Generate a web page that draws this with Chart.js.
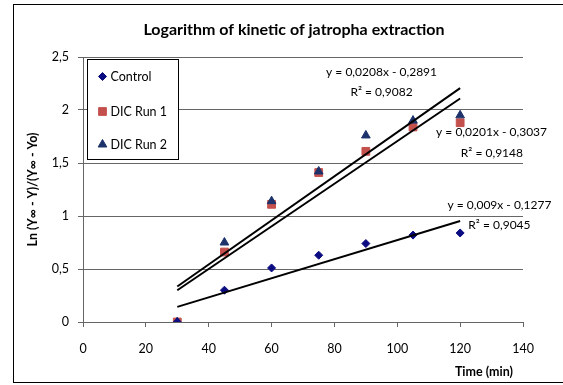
<!DOCTYPE html>
<html>
<head>
<meta charset="utf-8">
<script src="https://cdn.jsdelivr.net/npm/chart.js@4.4.1/dist/chart.umd.min.js"></script>
<style>
  html, body { margin: 0; padding: 0; background: #fff; }
</style>
</head>
<body>
<canvas id="kineticChart" width="563" height="385"></canvas>
<script>
const times = [30, 45, 60, 75, 90, 105, 120];
const control = [0, 0.30, 0.51, 0.63, 0.74, 0.82, 0.84];
const dicRun1 = [0, 0.66, 1.11, 1.41, 1.61, 1.84, 1.88];
const dicRun2 = [0, 0.75, 1.14, 1.42, 1.76, 1.90, 1.95];

// linear trendlines: [slope, intercept, r2]
const fitControl = [0.009, -0.1277, 0.9045];
const fitRun1 = [0.0201, -0.3037, 0.9148];
const fitRun2 = [0.0208, -0.2891, 0.9082];
const fitRange = [30, 120];

const xTicks = [0, 20, 40, 60, 80, 100, 120, 140];
const yTicks = [0, 0.5, 1, 1.5, 2, 2.5];

const chartTitle = 'Logarithm of kinetic of jatropha extraction';

const FONT = 'Lato, "Open Sans", sans-serif';
const comma = v => String(v).replace('.', ',');

function points(ys) {
    return times.map((t, i) => ({ x: t, y: ys[i] }));
}

function trend(fit) {
    return fitRange.map(x => ({ x: x, y: fit[0] * x + fit[1] }));
}

function equation(fit) {
    const sign = fit[1] < 0 ? ' - ' : ' + ';
    return 'y = ' + comma(fit[0]) + 'x' + sign + comma(Math.abs(fit[1]));
}

// equation labels, anchored in data units
const notes = [
    { fit: fitRun2, x: 95, y: 2.36, ry: 2.17, align: 'center' },
    { fit: fitRun1, x: 130, y: 1.79, ry: 1.59, align: 'center', rAlign: 'right', rx: 140 },
    { fit: fitControl, x: 132.5, y: 1.10, ry: 0.91, align: 'center' }
];

function marker(ctx, style, color, x, y, r) {
    if (Chart.helpers && Chart.helpers.drawPoint) {
        ctx.fillStyle = color;
        ctx.strokeStyle = color;
        Chart.helpers.drawPoint(ctx, { pointStyle: style, radius: r, rotation: 0, borderWidth: 1 }, x, y);
    }
}

const decorations = {
    id: 'decorations',
    beforeDraw(chart) {
        const c = chart.ctx;
        c.save();
        c.fillStyle = '#fff';
        c.fillRect(0, 0, chart.width, chart.height);
        c.strokeStyle = '#000';
        c.lineWidth = 1;
        c.strokeRect(13.5, 4.5, chart.width, 378);
        c.restore();
    },
    afterDraw(chart) {
        const c = chart.ctx;
        const area = chart.chartArea;
        const xs = chart.scales.x, ys = chart.scales.y;
        c.save();

        // title
        c.font = 'bold 16px ' + FONT;
        c.fillStyle = '#000';
        c.textAlign = 'center';
        c.textBaseline = 'middle';
        c.fillText(chartTitle, (area.left + area.right) / 2 - 9, 30);

        // legend box
        const lx = area.left + 4.5, ly = area.top + 2.5;
        c.fillStyle = '#fff';
        c.fillRect(lx, ly, 91, 100);
        c.strokeStyle = '#000';
        c.lineWidth = 1;
        c.strokeRect(lx, ly, 91, 100);
        const rows = [
            { ds: chart.data.datasets[0], dy: 17 },
            { ds: chart.data.datasets[1], dy: 52 },
            { ds: chart.data.datasets[2], dy: 85 }
        ];
        c.font = '12.5px ' + FONT;
        rows.forEach(row => {
            marker(c, row.ds.pointStyle, row.ds.backgroundColor, lx + 15, ly + row.dy, row.ds.pointRadius);
            c.fillStyle = '#000';
            c.textAlign = 'left';
            c.fillText(row.ds.label, lx + 23, ly + row.dy);
        });

        // trendline equations
        c.font = '12px ' + FONT;
        c.fillStyle = '#000';
        notes.forEach(n => {
            c.textAlign = n.align;
            c.fillText(equation(n.fit), xs.getPixelForValue(n.x), ys.getPixelForValue(n.y));
            c.textAlign = n.rAlign || n.align;
            c.fillText('R\u00b2 = ' + comma(n.fit[2]), xs.getPixelForValue(n.rx || n.x), ys.getPixelForValue(n.ry));
        });

        // x axis title
        c.font = 'bold 12.5px ' + FONT;
        c.textAlign = 'right';
        c.fillText('Time (min)', area.right - 10, chart.height - 13);
        c.restore();
    }
};

const ctx = document.getElementById('kineticChart').getContext('2d');

const chart = new Chart(ctx, {
    type: 'scatter',
    data: {
        datasets: [
            {
                label: 'Control',
                data: points(control),
                pointStyle: 'rectRot',
                pointRadius: 4,
                backgroundColor: '#0b0b82',
                borderColor: '#0b0b82',
                order: 3
            },
            {
                label: 'DIC Run 1',
                data: points(dicRun1),
                pointStyle: 'rect',
                pointRadius: 5.5,
                backgroundColor: '#c4504d',
                borderColor: '#c4504d',
                order: 5
            },
            {
                label: 'DIC Run 2',
                data: points(dicRun2),
                pointStyle: 'triangle',
                pointRadius: 5,
                backgroundColor: '#1c326b',
                borderColor: '#1c326b',
                order: 4
            },
            { label: 'fit2', data: trend(fitRun2), showLine: true, borderColor: '#000', borderWidth: 2, pointRadius: 0, order: 1 },
            { label: 'fit1', data: trend(fitRun1), showLine: true, borderColor: '#000', borderWidth: 2, pointRadius: 0, order: 1 },
            { label: 'fitC', data: trend(fitControl), showLine: true, borderColor: '#000', borderWidth: 2, pointRadius: 0, order: 1 }
        ]
    },
    options: {
        responsive: false,
        animation: false,
        devicePixelRatio: 1,
        layout: { padding: { left: 25, right: 40, top: 57, bottom: 0 } },
        plugins: {
            legend: { display: false },
            tooltip: { enabled: false },
            title: { display: false }
        },
        scales: {
            x: {
                type: 'linear',
                min: 0,
                max: 140,
                afterBuildTicks: s => { s.ticks = xTicks.map(v => ({ value: v })); },
                afterFit: s => { s.height = 63; },
                grid: { drawOnChartArea: false, drawTicks: true, tickLength: 5, color: '#666' },
                border: { color: '#666' },
                ticks: { color: '#000', padding: 14, font: { family: FONT, size: 12.5 } }
            },
            y: {
                type: 'linear',
                min: 0,
                max: 2.5,
                afterBuildTicks: s => { s.ticks = yTicks.map(v => ({ value: v })); },
                afterFit: s => { s.width = 58; },
                grid: { color: '#666', tickLength: 5 },
                border: { color: '#666' },
                ticks: { color: '#000', padding: 9, font: { family: FONT, size: 12.5 }, callback: v => comma(v) },
                title: {
                    display: true,
                    text: 'Ln (Y\u221e - Y)/(Y\u221e - Yo)',
                    color: '#000',
                    font: { family: FONT, size: 12.5, weight: 'bold' },
                    padding: { top: 0, bottom: 0 }
                }
            }
        }
    },
    plugins: [decorations]
});
</script>
</body>
</html>
